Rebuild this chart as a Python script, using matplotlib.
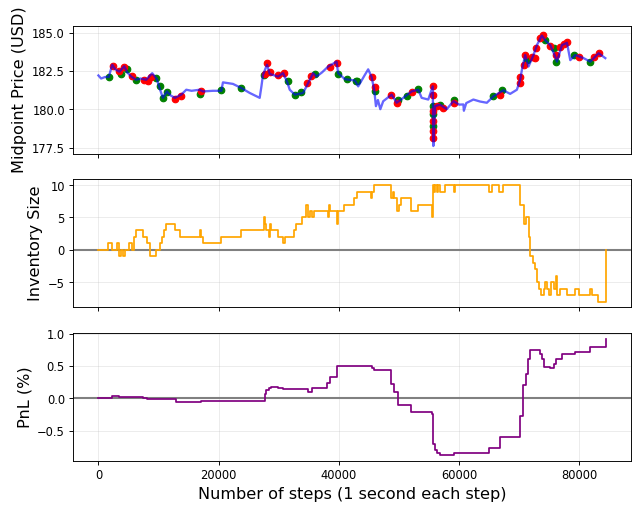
#!/usr/bin/env python3
"""
Market making backtest: midpoint price with fills, inventory and PnL.
"""

import matplotlib.pyplot as plt

# Midpoint price
price_steps = [0, 450, 1100, 1722, 2300, 2800, 3500, 4300, 4800, 5450, 6280, 7000,
               7950, 8950, 9720, 10170, 10720, 11390, 12000, 12720, 13780, 14620,
               15500, 16830, 17380, 19050, 20450, 20720, 22380, 23780, 25170, 26830,
               27120, 27380, 28050, 28500, 29880, 30720, 31380, 31830, 32670, 34050,
               34620, 35720, 36280, 37200, 38220, 39620, 39880, 41000, 42670, 43220,
               44330, 44880, 45450, 45880, 46170, 46500, 46900, 47380, 48780, 49620,
               50720, 52120, 53220, 53780, 54880, 55620, 55720, 56000, 56830, 57950,
               59050, 60000, 60720, 60800, 61200, 62380, 63500, 64620, 65720, 67380,
               68500, 69620, 70170, 70450, 71000, 71550, 72380, 72950, 73780, 74330,
               75170, 76000, 76280, 77120, 77950, 78500, 79330, 80720, 81830, 83220,
               84330]
price_values = [182.2, 182.0, 182.1, 182.1, 182.9, 182.6, 182.45, 182.8, 182.4, 182.13,
                181.92, 182.0, 181.92, 182.35, 181.96, 181.38, 180.74, 181.16, 180.9,
                180.74, 180.95, 181.27, 181.2, 181.27, 181.16, 181.2, 181.2, 181.75,
                181.65, 181.38, 181.06, 180.74, 181.49, 182.24, 182.9, 182.3, 182.13,
                182.35, 181.8, 181.27, 180.95, 181.06, 181.49, 182.35, 182.13, 182.4,
                182.78, 183.1, 182.35, 181.96, 181.87, 181.49, 182.24, 182.6, 182.1,
                181.27, 180.2, 180.6, 180.0, 180.52, 180.95, 180.42, 180.74, 181.16,
                181.27, 180.74, 180.63, 181.49, 177.6, 180.2, 180.3, 180.0, 180.52,
                180.3, 180.31, 179.9, 180.4, 180.63, 180.5, 180.42, 180.84, 181.23,
                181.0, 181.27, 181.92, 182.56, 183.53, 182.78, 183.53, 184.18, 184.8,
                184.5, 184.18, 183.43, 183.1, 184.18, 184.33, 183.2, 183.53, 183.33,
                183.1, 183.65, 183.33]

# Fills (red / green markers)
red_steps = [2389, 3500, 4333, 5556, 7556, 8222, 8778, 12667, 13667, 17111, 27667,
             28056, 28500, 29889, 30889, 34722, 35444, 38500, 39722, 45444, 46000,
             48667, 49611, 52111, 55611, 55611, 55611, 55611, 55611, 55611, 56278,
             57389, 59222, 66833, 70167, 70167, 70833, 71000, 72111, 72667, 72833,
             73500, 73944, 75056, 76167, 76833, 77389, 77944, 79889, 82500, 83222]
red_prices = [182.82, 182.52, 182.78, 182.18, 181.92, 181.81, 182.09, 180.67, 180.89,
              181.16, 182.3, 183.0, 182.4, 182.24, 182.35, 181.7, 182.18, 182.78,
              183.04, 182.13, 181.45, 180.95, 180.42, 181.1, 181.49, 180.95, 179.87,
              179.23, 178.59, 178.09, 180.2, 180.09, 180.4, 180.95, 181.7, 182.13,
              182.9, 183.53, 183.43, 183.32, 184.0, 184.65, 184.82, 184.13, 183.53,
              184.07, 184.22, 184.39, 183.38, 183.43, 183.65]
green_steps = [1722, 3778, 4700, 6278, 9611, 10167, 10722, 11444, 16833, 20444, 23778,
               27600, 31556, 32667, 33778, 36000, 39889, 41278, 42833, 42944, 46000,
               49900, 51278, 53222, 55611, 55611, 55611, 56833, 59222, 65720, 67111,
               71278, 74333, 75722, 76167, 79167, 81833]
green_prices = [182.13, 182.3, 182.6, 181.92, 182.03, 181.49, 180.74, 181.1, 181.02,
                181.23, 181.38, 182.2, 181.81, 180.95, 181.1, 182.3, 182.3, 181.96,
                181.87, 181.81, 181.17, 180.6, 180.84, 181.32, 180.2, 179.66, 178.91,
                180.25, 180.63, 180.84, 181.27, 183.2, 184.5, 183.96, 183.06, 183.53,
                183.1]

# Inventory (value held from each step on)
inv_steps = [0, 1556, 2278, 3111, 3500, 3778, 4056, 4500, 5056, 5556, 6000, 6278, 7389,
             8056, 8611, 9500, 10167, 10556, 10889, 11278, 12667, 13611, 16945, 17111,
             17389, 20445, 23667, 27556, 27722, 27945, 28389, 28556, 28722, 29889,
             30722, 31000, 32500, 32945, 33889, 34500, 34945, 35278, 35556, 35889,
             38222, 38389, 38500, 39611, 39778, 40834, 42500, 42945, 45278, 45500,
             45834, 48611, 49056, 49222, 49722, 50000, 50334, 52000, 53111, 55445,
             55611, 55834, 56000, 56278, 56556, 56834, 57667, 59222, 59334, 65000,
             65556, 66722, 67278, 70056, 70834, 71056, 71611, 71700, 71834, 72278,
             72556, 72945, 73334, 73667, 74056, 74334, 74611, 75000, 75278, 75722,
             76111, 76278, 76834, 77945, 79334, 79889, 81834, 82111, 83111, 84445]
inv_values = [0, 1, 0, 1, -1, 0, -1, 0, 1, 0, 2, 3, 2, 1, -1, 0, 1, 2, 3, 4, 3, 2, 3, 2,
              1, 2, 3, 5, 4, 3, 2, 4, 3, 2, 1, 2, 3, 4, 5, 7, 5, 6, 5, 6, 5, 7, 6, 4, 6,
              7, 8, 9, 8, 9, 10, 8, 9, 8, 6, 7, 8, 6, 7, 5, 10, 9, 10, 9, 10, 9, 10, 9,
              10, 9, 10, 9, 10, 7, 4, 5, 3, 2, -1, -2, -3, -5, -6, -7, -6, -5, -6, -7,
              -5, -6, -4, -7, -6, -7, -6, -7, -6, -7, -8, 0]

# PnL in percent (value held from each step on)
pnl_steps = [0, 2278, 3500, 5444, 7389, 8056, 12833, 17111, 27722, 27944, 28389, 28778,
             29889, 30722, 34944, 35556, 38111, 38611, 39611, 45444, 45889, 48611,
             49222, 49778, 51944, 55444, 55722, 56000, 56278, 56833, 59222, 65000,
             66833, 70167, 70611, 71111, 71389, 71833, 73389, 73778, 74167, 75167,
             75722, 76167, 77111, 79333, 81833, 84444]
pnl_values = [0.0, 0.035, 0.015, 0.025, 0.01, -0.015, -0.065, -0.05, 0.06, 0.12, 0.16,
              0.18, 0.16, 0.15, 0.10, 0.165, 0.24, 0.33, 0.50, 0.47, 0.44, 0.22, 0.10,
              -0.10, -0.21, -0.25, -0.70, -0.80, -0.85, -0.88, -0.85, -0.77, -0.60,
              -0.27, 0.21, 0.37, 0.60, 0.75, 0.68, 0.60, 0.48, 0.47, 0.53, 0.60, 0.69,
              0.72, 0.79, 0.92]

# Figure: rendered at a low dpi so default font sizes match the reference
dpi = 83
fig, axes = plt.subplots(3, 1, sharex=True, figsize=(638.4 / dpi, 508.4 / dpi), dpi=dpi)
fig.subplots_adjust(left=0.1144, right=0.989, top=0.9488, bottom=0.0925, hspace=0.2)

# Panel 1: midpoint price with fills
ax = axes[0]
ax.scatter(green_steps, green_prices, color='green', s=32, zorder=2)
ax.scatter(red_steps, red_prices, color='red', s=32, zorder=2)
ax.plot(price_steps, price_values, color='blue', alpha=0.6, lw=2, zorder=3)
ax.set_ylim(177.1, 185.45)
ax.set_yticks([177.5, 180.0, 182.5, 185.0])
ax.set_ylabel('Midpoint Price (USD)', fontsize=14)

# Panel 2: inventory
ax = axes[1]
ax.axhline(0, color='gray', lw=1.8, zorder=1)
ax.plot(inv_steps, inv_values, color='orange', drawstyle='steps-post', lw=1.5, zorder=2)
ax.set_ylabel('Inventory Size', fontsize=14)

# Panel 3: PnL
ax = axes[2]
ax.axhline(0, color='gray', lw=1.8, zorder=1)
ax.plot(pnl_steps, pnl_values, color='purple', drawstyle='steps-post', lw=1.5, zorder=2)
ax.set_ylabel('PnL (%)', fontsize=14)
ax.set_xlabel('Number of steps (1 second each step)', fontsize=14)
ax.set_xticks([0, 20000, 40000, 60000, 80000])

for ax in axes:
    ax.grid(True, alpha=0.25)
    ax.set_axisbelow(True)

plt.savefig('out.png', dpi=dpi)
print("saved out.png")
